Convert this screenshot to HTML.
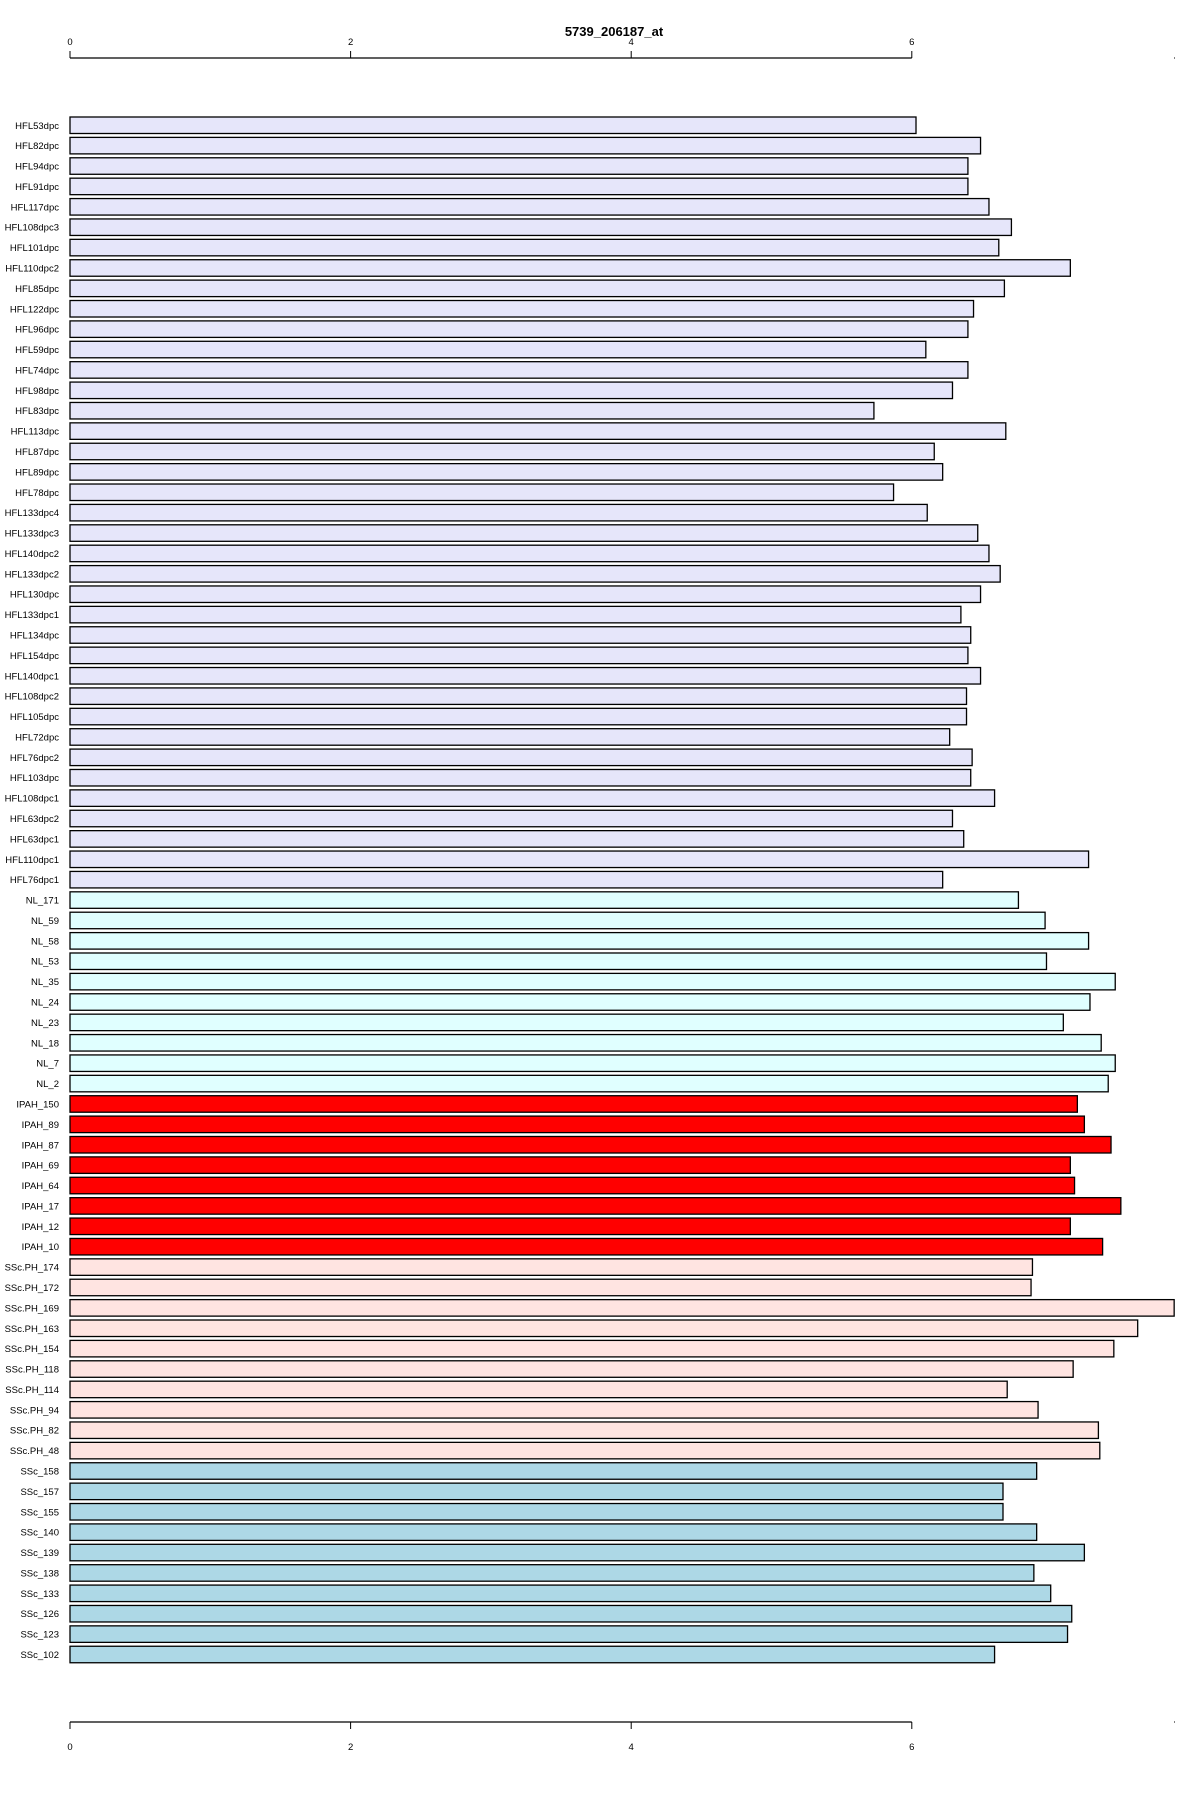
<!DOCTYPE html>
<html><head><meta charset="utf-8"><style>
html,body{margin:0;padding:0;background:#fff;}
svg{display:block;font-family:"Liberation Sans",Arial,sans-serif;}
</style></head><body>
<svg id="chart" width="1200" height="1800" viewBox="0 0 1200 1800" xmlns="http://www.w3.org/2000/svg">
<text x="614" y="36" text-anchor="middle" font-size="13" font-weight="bold">5739_206187_at</text>
</svg>
<script>
const categories = ["HFL53dpc","HFL82dpc","HFL94dpc","HFL91dpc","HFL117dpc","HFL108dpc3","HFL101dpc","HFL110dpc2","HFL85dpc","HFL122dpc","HFL96dpc","HFL59dpc","HFL74dpc","HFL98dpc","HFL83dpc","HFL113dpc","HFL87dpc","HFL89dpc","HFL78dpc","HFL133dpc4","HFL133dpc3","HFL140dpc2","HFL133dpc2","HFL130dpc","HFL133dpc1","HFL134dpc","HFL154dpc","HFL140dpc1","HFL108dpc2","HFL105dpc","HFL72dpc","HFL76dpc2","HFL103dpc","HFL108dpc1","HFL63dpc2","HFL63dpc1","HFL110dpc1","HFL76dpc1","NL_171","NL_59","NL_58","NL_53","NL_35","NL_24","NL_23","NL_18","NL_7","NL_2","IPAH_150","IPAH_89","IPAH_87","IPAH_69","IPAH_64","IPAH_17","IPAH_12","IPAH_10","SSc.PH_174","SSc.PH_172","SSc.PH_169","SSc.PH_163","SSc.PH_154","SSc.PH_118","SSc.PH_114","SSc.PH_94","SSc.PH_82","SSc.PH_48","SSc_158","SSc_157","SSc_155","SSc_140","SSc_139","SSc_138","SSc_133","SSc_126","SSc_123","SSc_102"];
const values = [6.03,6.49,6.40,6.40,6.55,6.71,6.62,7.13,6.66,6.44,6.40,6.10,6.40,6.29,5.73,6.67,6.16,6.22,5.87,6.11,6.47,6.55,6.63,6.49,6.35,6.42,6.40,6.49,6.39,6.39,6.27,6.43,6.42,6.59,6.29,6.37,7.26,6.22,6.76,6.95,7.26,6.96,7.45,7.27,7.08,7.35,7.45,7.40,7.18,7.23,7.42,7.13,7.16,7.49,7.13,7.36,6.86,6.85,7.87,7.61,7.44,7.15,6.68,6.90,7.33,7.34,6.89,6.65,6.65,6.89,7.23,6.87,6.99,7.14,7.11,6.59];
const groups = ["HFL","NL","IPAH","SScPH","SSc"];
const groupCounts = [38,10,8,10,10];
const groupColors = {HFL:"#E6E6FA",NL:"#E0FFFF",IPAH:"#FF0000",SScPH:"#FFE4E1",SSc:"#ADD8E6"};
const tickValues = [0,2,4,6];
const tickLabels = ["0","2","4","6"];

const NS="http://www.w3.org/2000/svg";
const svg=document.getElementById('chart');
const x0=70, pxPerUnit=140.3;
const xScale=v=>x0+v*pxPerUnit;
const yTop=117, pitch=20.39, barH=16.5;
const yScale=i=>yTop+i*pitch;
function mk(tag,attrs){const e=document.createElementNS(NS,tag);for(const k in attrs)e.setAttribute(k,attrs[k]);svg.appendChild(e);return e;}

const rowGroup=[];
groups.forEach((g,gi)=>{for(let k=0;k<groupCounts[gi];k++)rowGroup.push(g);});

categories.forEach((c,i)=>{
  const y=yScale(i);
  const r=mk('rect',{x:xScale(0),y:y,width:xScale(values[i])-xScale(0),height:barH,fill:groupColors[rowGroup[i]],stroke:'#000','stroke-width':1.3});
  
  
  const t=mk('text',{x:59,y:y+barH/2+3.5,'text-anchor':'end','font-size':9.5});
  t.textContent=c;
  
  
});

function axis(yLine,tickDir,labelY,name){
  const a=mk('line',{x1:xScale(0),x2:xScale(6),y1:yLine,y2:yLine,stroke:'#000','stroke-width':1.3});
  
  
  tickValues.forEach((v,i)=>{
    const tk=mk('line',{x1:xScale(v),x2:xScale(v),y1:yLine,y2:yLine+tickDir*7,stroke:'#000','stroke-width':1});
    
    
    const tl=mk('text',{x:xScale(v),y:labelY,'text-anchor':'middle','font-size':9.5});
    tl.textContent=tickLabels[i];
    
    
  });
  const d=mk('rect',{x:1174,y:yLine-0.5,width:1,height:1,fill:'#000'});
  
  
}
axis(58,-1,45,'top-x-axis');
axis(1722,1,1750,'bottom-x-axis');
</script>
</body></html>
